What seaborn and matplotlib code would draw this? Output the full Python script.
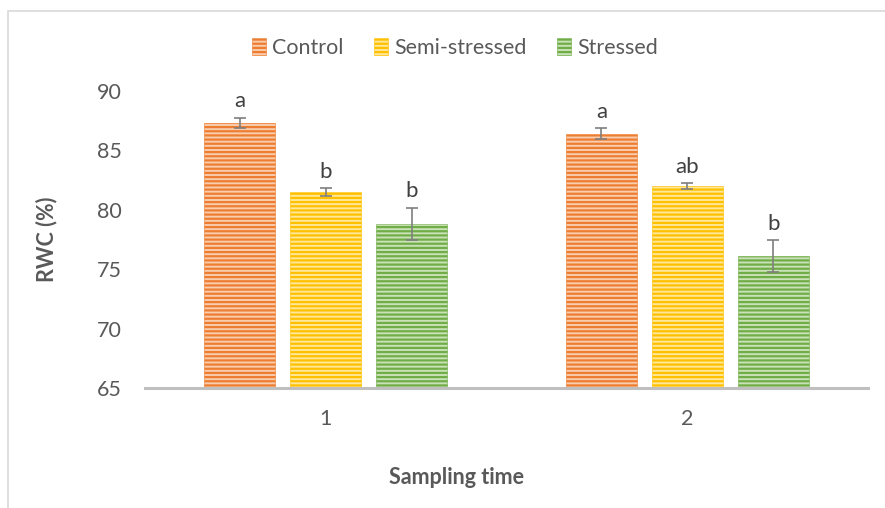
import matplotlib
matplotlib.use("Agg")
import matplotlib.pyplot as plt
import seaborn as sns
import pandas as pd
import numpy as np
from matplotlib.patches import Patch, Rectangle

times = ["1", "2"]
treatments = ["Control", "Semi-stressed", "Stressed"]
control = [87.3, 86.4]
semi = [81.5, 82.0]
stressed = [78.8, 76.1]
control_err = [0.45, 0.45]
semi_err = [0.3, 0.25]
stressed_err = [1.35, 1.35]
letters = {"Control": ["a", "a"], "Semi-stressed": ["b", "ab"], "Stressed": ["b", "b"]}

main_colors = ["#ED7D31", "#FFC000", "#70AD47"]
tints = ["#F9CDAE", "#FFE89A", "#C9E2B8"]

values = {"Control": control, "Semi-stressed": semi, "Stressed": stressed}
errs = {"Control": control_err, "Semi-stressed": semi_err, "Stressed": stressed_err}

rows = []
for t in treatments:
    for i, tm in enumerate(times):
        rows.append({"time": tm, "treatment": t, "rwc": values[t][i]})
df = pd.DataFrame(rows)

sns.set_theme(style="white")
plt.rcParams["font.family"] = ["Lato", "DejaVu Sans"]
plt.rcParams["hatch.linewidth"] = 1.6

fig = plt.figure(figsize=(8.85, 5.08), dpi=100)
ax = fig.add_axes([145/885, 1-388/508, (868-145)/885, (388-91)/508])

sns.barplot(data=df, x="time", y="rwc", hue="treatment", hue_order=treatments,
            order=times, palette=main_colors, width=0.713, gap=0.174,
            errorbar=None, ax=ax, legend=False)

bar_containers = list(ax.containers)
for ci, cont in enumerate(bar_containers):
    t = treatments[ci]
    for j, bar in enumerate(cont):
        bar.set_facecolor(tints[ci])
        bar.set_edgecolor(main_colors[ci])
        bar.set_hatch("----")
        bar.set_linewidth(0.4)
        cx = bar.get_x() + bar.get_width() / 2
        v = values[t][j]
        e = errs[t][j]
        ax.errorbar(cx, v, yerr=e, color="#7F7F7F", capsize=4, elinewidth=1.2,
                    capthick=1.2, fmt="none", zorder=5)
        ax.text(cx, v + e + 0.55, letters[t][j], ha="center", va="bottom",
                fontsize=16, color="#404040", clip_on=False)

ax.set_ylim(65, 90)
ax.set_xlim(-0.5, 1.5)
ax.set_yticks([65, 70, 75, 80, 85, 90])
for s in ["top", "right", "left"]:
    ax.spines[s].set_visible(False)
ax.spines["bottom"].set_color("#BFBFBF")
ax.spines["bottom"].set_linewidth(2.2)
ax.tick_params(axis="both", length=0, labelsize=15.5, labelcolor="#595959")
ax.tick_params(axis="y", pad=17)
ax.tick_params(axis="x", pad=15)
ax.set_xlabel("Sampling time", fontsize=15.5, fontweight="bold", color="#595959", va="center")
ax.set_ylabel("RWC (%)", fontsize=15.5, fontweight="bold", color="#595959", va="center")
ax.xaxis.set_label_coords((457-145)/723, (388-478)/297)
ax.yaxis.set_label_coords((47-145)/723, 0.5)

handles = [Patch(facecolor=tints[i], edgecolor=main_colors[i], hatch="----", linewidth=0.4)
           for i in range(3)]
fig.legend(handles, treatments, loc="center", bbox_to_anchor=(0.514, 1-48/508), ncol=3,
           frameon=False, fontsize=15.5, labelcolor="#595959", handlelength=0.65,
           handleheight=0.85, handletextpad=0.3, columnspacing=1.4)

fig.patches.append(Rectangle((8/885, -0.05), 1.2, 1-11/508+0.05, transform=fig.transFigure,
                             fill=False, edgecolor="#D9D9D9", linewidth=1.2))

fig.savefig("out.png", dpi=100)
